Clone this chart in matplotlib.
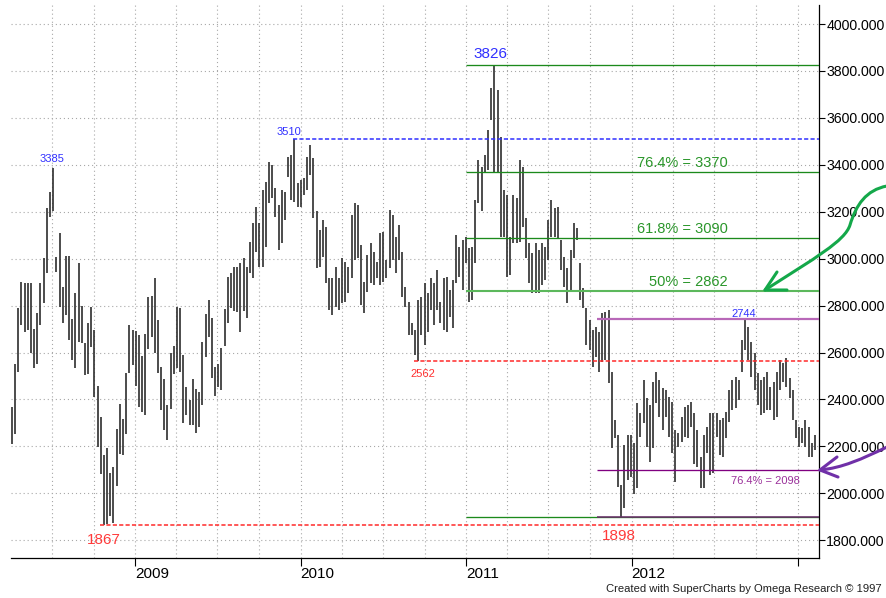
import matplotlib
matplotlib.use('Agg')
import matplotlib.pyplot as plt
import matplotlib.dates as mdates
from matplotlib.path import Path
from matplotlib.patches import PathPatch
from matplotlib.lines import Line2D
from matplotlib.ticker import FixedLocator, FuncFormatter
import pandas as pd

plt.rcParams['font.family'] = ['Liberation Sans', 'DejaVu Sans']
plt.rcParams['lines.scale_dashes'] = False

# ---------------- data (weekly high / low) ----------------
start_date = '2008-04-04'
highs = [
    2368, 2553, 2788, 2902, 2898, 2898, 2895, 2702, 2769, 2895,
    3001, 3215, 3283, 3385, 3008, 3111, 2880, 3011, 3011, 2741,
    2852, 2980, 2798, 2641, 2724, 2795, 2695, 2456, 2325, 2162,
    2194, 2086, 2112, 2274, 2382, 2318, 2513, 2717, 2695, 2692,
    2674, 2584, 2681, 2838, 2841, 2916, 2738, 2539, 2485, 2375,
    2599, 2627, 2795, 2788, 2589, 2453, 2399, 2485, 2446, 2432,
    2646, 2764, 2823, 2745, 2539, 2553, 2621, 2784, 2923, 2937,
    2966, 2966, 2980, 3001, 2966, 3073, 3151, 3222, 3151, 3293,
    3328, 3414, 3399, 3300, 3229, 3293, 3286, 3435, 3442, 3510,
    3321, 3336, 3343, 3435, 3485, 3428, 3201, 3122, 3165, 3137,
    2916, 2916, 2966, 2916, 3001, 2987, 2966, 3186, 3236, 3229,
    3058, 2902, 3016, 3066, 3030, 2987, 3108, 3115, 2994, 3208,
    3186, 3094, 3144, 3030, 2881, 2817, 2725, 2696, 2824, 2838,
    2895, 2852, 2916, 2895, 2952, 2817, 2916, 2923, 2867, 2909,
    3101, 3051, 3080, 3094, 3044, 3051, 3250, 3421, 3392, 3442,
    3549, 3726, 3826, 3719, 3520, 3293, 3272, 3094, 3272, 3257,
    3421, 3392, 3172, 3066, 3023, 3066, 3037, 3066, 3051, 3165,
    3250, 3215, 3222, 3080, 3009, 2959, 3037, 3151, 3129, 2980,
    2874, 2788, 2739, 2696, 2710, 2689, 2767, 2774, 2781, 2518,
    2312, 2248, 2035, 2206, 2248, 2248, 2213, 2383, 2341, 2483,
    2405, 2376, 2476, 2518, 2483, 2447, 2440, 2412, 2390, 2270,
    2255, 2326, 2369, 2376, 2390, 2341, 2270, 2156, 2248, 2284,
    2341, 2341, 2341, 2312, 2319, 2348, 2440, 2483, 2497, 2483,
    2653, 2744, 2710, 2646, 2596, 2511, 2483, 2497, 2518, 2454,
    2476, 2518, 2568, 2554, 2575, 2490, 2440, 2312, 2284, 2277,
    2312, 2284, 2213, 2248,
]
lows = [
    2211, 2254, 2517, 2717, 2688, 2695, 2596, 2532, 2553, 2717,
    2809, 2937, 3179, 3201, 2944, 2795, 2727, 2759, 2655, 2567,
    2532, 2646, 2641, 2503, 2510, 2624, 2411, 2197, 2083, 1867,
    1870, 1905, 1873, 2033, 2166, 2162, 2254, 2513, 2546, 2456,
    2368, 2347, 2332, 2617, 2667, 2596, 2513, 2354, 2271, 2226,
    2361, 2510, 2532, 2517, 2300, 2332, 2290, 2290, 2257, 2283,
    2375, 2581, 2667, 2493, 2414, 2453, 2439, 2627, 2724, 2788,
    2778, 2774, 2688, 2778, 2746, 2938, 2916, 3030, 2966, 2966,
    3051, 3236, 3257, 3179, 3037, 3066, 3165, 3350, 3250, 3243,
    3222, 3222, 3272, 3293, 3357, 3172, 2959, 2966, 3009, 2895,
    2781, 2760, 2795, 2781, 2810, 2817, 2852, 2916, 2994, 3001,
    2803, 2767, 2859, 2895, 2888, 2916, 2888, 2902, 2916, 2959,
    2994, 2938, 2994, 2838, 2795, 2675, 2675, 2590, 2562, 2675,
    2632, 2689, 2781, 2717, 2781, 2725, 2696, 2689, 2753, 2703,
    2895, 2923, 2867, 2980, 2817, 2824, 2980, 3236, 3201, 3371,
    3378, 3591, 3364, 3371, 3094, 3094, 2923, 2931, 3066, 3066,
    3073, 3137, 3001, 2895, 2852, 2852, 2852, 2888, 2909, 2994,
    3094, 3094, 3087, 2952, 2881, 2810, 2866, 3001, 3080, 2824,
    2788, 2632, 2611, 2540, 2582, 2518, 2561, 2568, 2469, 2191,
    2234, 2028, 1898, 1936, 2056, 2071, 1999, 2021, 2241, 2298,
    2198, 2135, 2191, 2383, 2326, 2270, 2326, 2241, 2170, 2049,
    2198, 2220, 2241, 2234, 2284, 2127, 2113, 2021, 2021, 2170,
    2078, 2085, 2241, 2163, 2156, 2234, 2305, 2355, 2362, 2397,
    2518, 2611, 2568, 2497, 2440, 2376, 2333, 2341, 2355, 2355,
    2312, 2326, 2440, 2476, 2454, 2405, 2312, 2234, 2198, 2213,
    2198, 2156, 2156, 2184,
]

y_ticks = [1800, 2000, 2200, 2400, 2600, 2800, 3000, 3200, 3400, 3600, 3800, 4000]
year_ticks = ['2009-01-01', '2010-01-01', '2011-01-01', '2012-01-01', '2013-01-01']
year_labels = ['2009', '2010', '2011', '2012', '']

# swing highs / lows (label, date of bar, value)
swing_text = ['3385', '3510', '3826', '2744', '2562', '1867', '1898']
swing_date = ['2008-07-04', '2009-12-18', '2011-03-04', '2012-09-07',
              '2010-09-17', '2008-10-24', '2011-12-09']
swing_value = [3385, 3510, 3826, 2744, 2562, 1867, 1898]

fib_levels = [3826, 3370, 3090, 2862, 1898]
fib_text = ['76.4% = 3370', '61.8% = 3090', '50% = 2862']
purple_levels = [2744, 2098, 1898]

# ---------------- figure ----------------
W, H = 887, 598
fig = plt.figure(figsize=(W / 100, H / 100), dpi=100)
ax_l, ax_r, ax_b, ax_t = 11, 819, 558.3, 5
ax = fig.add_axes([ax_l / W, 1 - ax_b / H, (ax_r - ax_l) / W, (ax_b - ax_t) / H])

dates = pd.date_range(start_date, periods=len(highs), freq='7D')
xnum = mdates.date2num(dates)

x_left = mdates.date2num(pd.Timestamp('2008-04-02'))
x_right = mdates.date2num(pd.Timestamp('2013-02-17'))
ax.set_xlim(x_left, x_right)
ax.set_ylim(1723, 4081)

# grid
grid_kw = dict(color='#a8a8a8', lw=0.8, linestyle=(0, (0.8, 2.1)))
ax.set_yticks(y_ticks)
ax.yaxis.grid(True, **grid_kw)
ax.xaxis.set_major_locator(FixedLocator(mdates.date2num(pd.to_datetime(year_ticks))))
ax.xaxis.set_minor_locator(mdates.MonthLocator(bymonth=[1, 4, 7, 10]))
ax.xaxis.grid(True, which='both', **grid_kw)
ax.set_axisbelow(True)

# price bars
ax.vlines(xnum, lows, highs, colors='#2e2e2e', lw=1.2, zorder=3)

def d(s):
    return mdates.date2num(pd.Timestamp(s))

# fib / level lines
g0 = d('2011-01-01')
for lv in fib_levels:
    if lv == 2862:
        ax.hlines(lv, g0, x_right, colors='#5cb85c', lw=1.5, zorder=4)
    else:
        ax.hlines(lv, g0, x_right, colors='#1c8a1c', lw=0.95, zorder=4)
p0 = d('2011-10-17')
ax.hlines(purple_levels[0], p0, x_right, colors='#b868b8', lw=1.6, zorder=4)
ax.hlines(purple_levels[1], p0, x_right, colors='#800080', lw=0.95, zorder=4)
ax.hlines(purple_levels[2], p0, x_right, colors='#6a2a6a', lw=1.1, zorder=5)

dash = (0, (3.0, 1.6))
ax.hlines(3510, d('2009-12-15'), x_right, colors='#2f2fff', lw=1.1, linestyles=[dash], zorder=4)
ax.hlines(2562, d('2010-09-08'), x_right, colors='#ff2a2a', lw=1.1, linestyles=[dash], zorder=4)
ax.hlines(1867, d('2008-10-15'), x_right, colors='#ff2a2a', lw=1.1, linestyles=[dash], zorder=4)

# swing labels
sw_style = {
    '3385': dict(color='#3030ff', fs=8, off=(-0.7, 4.6)),
    '3510': dict(color='#3030ff', fs=8, off=(-3.6, 2.9)),
    '3826': dict(color='#3030ff', fs=11, off=(-2.9, 5.0)),
    '2744': dict(color='#3030ff', fs=8, off=(-1.2, 1.5)),
    '2562': dict(color='#ff3030', fs=8, off=(3.6, -10.9)),
    '1867': dict(color='#ff3a3a', fs=11, off=(0, -14.0)),
    '1898': dict(color='#ff3a3a', fs=11, off=(-1.4, -16.6)),
}
for t, ds, v in zip(swing_text, swing_date, swing_value):
    st = sw_style[t]
    ax.annotate(t, xy=(d(ds), v), xytext=st['off'], textcoords='offset points',
                ha='center', va='baseline', color=st['color'], fontsize=st['fs'],
                zorder=6, annotation_clip=False)

# fib labels
fx = d('2012-07-30')
for t, lv in zip(fib_text, [3370, 3090, 2862]):
    ax.annotate(t, xy=(fx, lv), xytext=(0, 3.4), textcoords='offset points',
                ha='right', va='baseline', color='#2a962a', fontsize=10.5, zorder=6)
ax.annotate('76.4% = 2098', xy=(d('2012-08-06'), 2098), xytext=(0, -9.9),
            textcoords='offset points', ha='left', va='baseline',
            color='#9a309a', fontsize=8, zorder=6)

# axes styling
for s in ['left', 'top']:
    ax.spines[s].set_visible(False)
for s in ['bottom', 'right']:
    ax.spines[s].set_color('black')
    ax.spines[s].set_linewidth(0.9)

ax.yaxis.tick_right()
ax.yaxis.set_major_formatter(FuncFormatter(lambda v, p: f'{v:.3f}'))
ax.tick_params(axis='y', direction='out', length=4.3, width=0.8, pad=1.0,
               labelsize=10.2, colors='black')
ax.set_xticklabels(year_labels)
ax.tick_params(axis='x', which='major', direction='out', length=5.8, width=0.8,
               pad=0.3, labelsize=11)
ax.tick_params(axis='x', which='minor', length=0)
for lab in ax.get_xticklabels():
    lab.set_ha('left')

# hand-drawn arrows (figure pixel coordinates)
def fp(x, y):
    return (x / W, 1 - y / H)

green_path = Path([fp(887, 186), fp(866, 190), fp(856, 205), fp(850, 225),
                   fp(845, 241), fp(815, 258), fp(765, 290)],
                  [Path.MOVETO, Path.CURVE4, Path.CURVE4, Path.CURVE4,
                   Path.CURVE4, Path.CURVE4, Path.CURVE4])
fig.add_artist(PathPatch(green_path, transform=fig.transFigure, fill=False,
                         edgecolor='#14a84a', lw=2.2, capstyle='round'))
xs, ys = zip(fp(777, 272), fp(765, 290), fp(787, 290))
fig.add_artist(Line2D(xs, ys, transform=fig.transFigure, color='#14a84a', lw=2.2,
                      solid_capstyle='round', solid_joinstyle='round'))

purple_path = Path([fp(887, 447), fp(862, 459), fp(842, 468), fp(820, 470)],
                   [Path.MOVETO, Path.CURVE4, Path.CURVE4, Path.CURVE4])
fig.add_artist(PathPatch(purple_path, transform=fig.transFigure, fill=False,
                         edgecolor='#7030a8', lw=2.2, capstyle='round'))
xs, ys = zip(fp(837, 457), fp(820, 470), fp(838, 477))
fig.add_artist(Line2D(xs, ys, transform=fig.transFigure, color='#7030a8', lw=2.2,
                      solid_capstyle='round', solid_joinstyle='round'))

fig.text(882 / W, 1 - 592 / H, 'Created with SuperCharts by Omega Research \u00a9 1997',
         ha='right', va='baseline', fontsize=8.1, color='#202020')

fig.savefig('out.png', dpi=100)
